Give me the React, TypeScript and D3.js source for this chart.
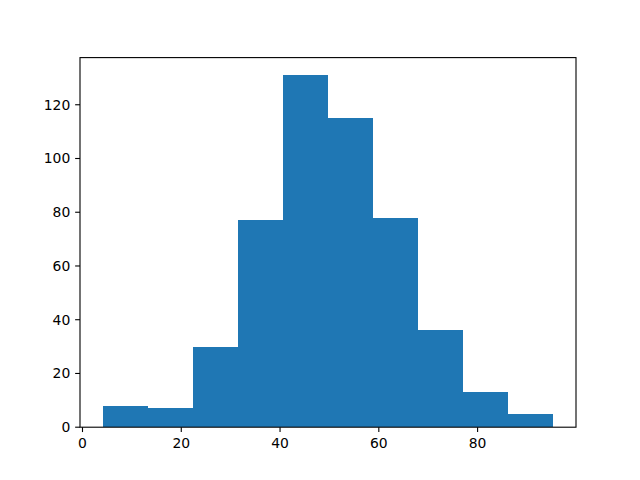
import * as d3 from "d3";

// histogram bin edges and counts per bin
const binEdges = [4.06, 13.19, 22.32, 31.45, 40.58, 49.71, 58.84, 67.97, 77.1, 86.23, 95.36];
const counts = [8, 7, 30, 77, 131, 115, 78, 36, 13, 5];
const xTicks = [0, 20, 40, 60, 80];
const yTicks = [0, 20, 40, 60, 80, 100, 120];

const width = 640;
const height = 480;
const margin = { top: 57.6, right: 64, bottom: 52.8, left: 80 };

export default function App() {
  const lo = binEdges[0];
  const hi = binEdges[binEdges.length - 1];
  const pad = (hi - lo) * 0.05;
  const maxCount = d3.max(counts)!;

  const x = d3
    .scaleLinear()
    .domain([lo - pad, hi + pad])
    .range([margin.left, width - margin.right]);
  const y = d3
    .scaleLinear()
    .domain([0, maxCount * 1.05])
    .range([height - margin.bottom, margin.top]);

  const bars = counts.map((c, i) => ({ x0: binEdges[i], x1: binEdges[i + 1], c }));
  const tickLen = 4.86;
  const font = "'DejaVu Sans', sans-serif";

  return (
    <div style={{ position: "fixed", left: 0, top: 0 }}>
      <svg width={width} height={height} style={{ display: "block", background: "#fff" }}>
        {bars.map((b, i) => (
          <rect
            key={i}
            x={x(b.x0)}
            y={y(b.c)}
            width={x(b.x1) - x(b.x0)}
            height={y(0) - y(b.c)}
            fill="#1f77b4"
            shapeRendering="crispEdges"
          />
        ))}

        {xTicks.map((t) => (
          <g key={"x" + t} transform={`translate(${x(t)},${y(0)})`}>
            <line y2={tickLen} stroke="#000" strokeWidth={1.1} />
            <text
              y={tickLen + 4.86}
              dy="0.8em"
              textAnchor="middle"
              fontFamily={font}
              fontSize={13.9}
              fill="#000"
            >
              {t}
            </text>
          </g>
        ))}

        {yTicks.map((t) => (
          <g key={"y" + t} transform={`translate(${margin.left},${y(t)})`}>
            <line x2={-tickLen} stroke="#000" strokeWidth={1.1} />
            <text
              x={-tickLen - 4.86}
              dy="0.35em"
              textAnchor="end"
              fontFamily={font}
              fontSize={13.9}
              fill="#000"
            >
              {t}
            </text>
          </g>
        ))}

        <rect
          x={margin.left}
          y={margin.top}
          width={width - margin.left - margin.right}
          height={height - margin.top - margin.bottom}
          fill="none"
          stroke="#000"
          strokeWidth={1.1}
        />
      </svg>
    </div>
  );
}
